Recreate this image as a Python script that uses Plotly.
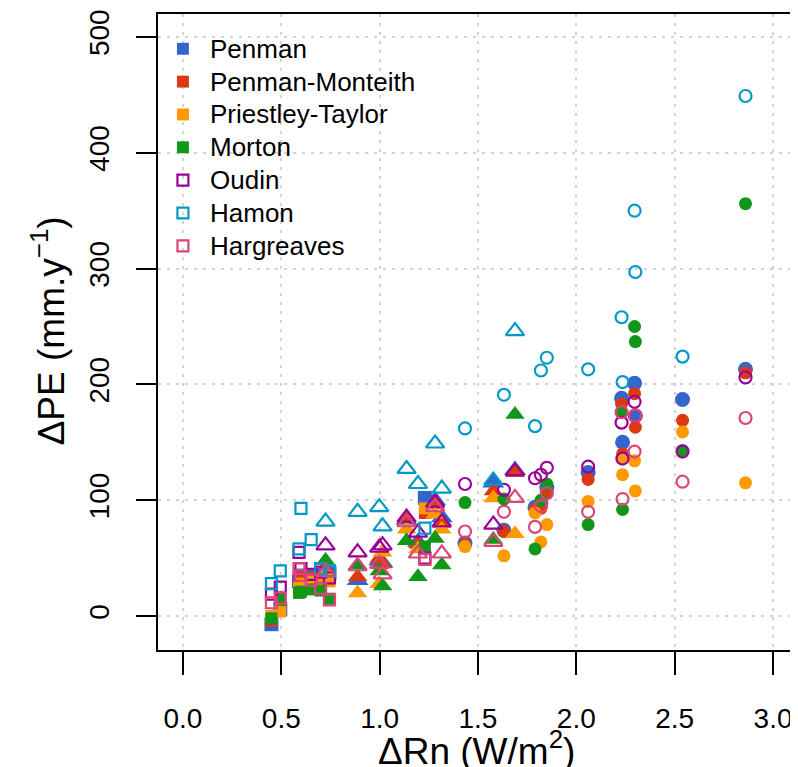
import plotly.graph_objects as go

# ---------------- data ----------------
methods = ["Penman", "Penman-Monteith", "Priestley-Taylor", "Morton",
           "Oudin", "Hamon", "Hargreaves"]
colors = ["#3366CC", "#DC3912", "#FF9900", "#109618", "#990099", "#0099C6", "#DD4477"]
filled = [True, True, True, True, False, False, False]

# site ΔRn values for the three marker groups
sq_x = [0.45, 0.495, 0.60, 0.59, 0.652, 0.70, 0.745, 1.23]
tri_x = [0.725, 0.888, 0.998, 1.015, 1.137, 1.195, 1.282, 1.316, 1.578, 1.688]
cir_x = [1.434, 1.632, 1.79, 1.82, 1.85, 2.06, 2.23, 2.235, 2.296, 2.30, 2.54, 2.86]

# ΔPE per method, square group
sq_penman = [-7, 6, 35, 30, 35, 32, 37, 102]
sq_pm = [-4, 8, 33, 28, 33, 30, 35, 89]
sq_pt = [0, 4, 28, 24, 30, 29, 30, 93]
sq_morton = [-2, 14, 21, 20, 23, 22, 15, 60]
sq_oudin = [19, 25, 41, 55, 36, 38, 33, 50]
sq_hamon = [28, 39, 93, 58, 66, 41, 39, 76]
sq_harg = [11.5, 15.5, 35, 41, 31, 24, 14, 49]

# ΔPE per method, triangle group
tri_penman = [41, 31, 48, 46, 83, 64, 100, 85, 115, 126]
tri_pm = [40, 34, 50, 45, 84, 62, 96, 80, 108, 124]
tri_pt = [36, 20, 28, 55, 75, 58, 88, 75, 102, 71]
tri_morton = [48, 44, 39, 26, 65, 34, 67, 44, 66, 174]
tri_oudin = [61, 55, 59, 61, 85, 72, 98, 81, 79, 125]
tri_hamon = [81.5, 90, 94, 77.5, 127, 114, 149, 110, 117, 246]
tri_harg = [38, 43, 45, 36, 81, 54, 94, 54, 64, 102]

# ΔPE per method, circle group
cir_penman = [63, 74, 94, 97, 111, 124, 188, 150, 201, 173, 187, 213]
cir_pm = [62, 73, 92, 93, 107, 118, 183, 140, 192, 163, 169, 210]
cir_pt = [60, 52, 89, 64, 79, 99, 136, 122, 134, 108, 159, 115]
cir_morton = [98, 101, 58, 100, 114, 79, 176, 92, 250, 237, 143, 356]
cir_oudin = [114, 109, 119, 122, 128, 129, 167, 136, 185, 173, 142, 206]
cir_hamon = [162, 191, 164, 212, 223, 213, 258, 202, 350, 297, 224, 449]
cir_harg = [73, 90, 77, 95, 106, 90, 176, 101, 142, 173, 116, 171]

x_ticks = [0.0, 0.5, 1.0, 1.5, 2.0, 2.5, 3.0]
y_ticks = [0, 100, 200, 300, 400, 500]

sq_vals = [sq_penman, sq_pm, sq_pt, sq_morton, sq_oudin, sq_hamon, sq_harg]
tri_vals = [tri_penman, tri_pm, tri_pt, tri_morton, tri_oudin, tri_hamon, tri_harg]
cir_vals = [cir_penman, cir_pm, cir_pt, cir_morton, cir_oudin, cir_hamon, cir_harg]

# ---------------- figure geometry (page has an 8px body margin) ----------------
W, H = 790, 759
ML, MR, MT, MB = 150, 2, 2, 117
PW = W - ML - MR
PH = H - MT - MB


def px2paper_x(fx):
    return (fx - ML) / PW


def px2paper_y(fy):
    return (H - MB - fy) / PH


fig = go.Figure()

groups = [
    ("square", sq_x, sq_vals, 12, 11),
    ("triangle-up", tri_x, tri_vals, 17, 16),
    ("circle", cir_x, cir_vals, 13, 12),
]

for i, (m, col, fil) in enumerate(zip(methods, colors, filled)):
    for sym, xs, vals, fsize, osize in groups:
        if fil:
            size = fsize + (2 if i == 0 else 0)
            marker = dict(symbol=sym, size=size, color=col, line=dict(width=0))
        else:
            marker = dict(symbol=sym + "-open", size=osize, color=col,
                          line=dict(width=2.2, color=col))
        fig.add_trace(go.Scatter(x=xs, y=vals[i], mode="markers", marker=marker,
                                 name=m, showlegend=False, hoverinfo="x+y+name"))

font_family = "Liberation Sans, Arial, sans-serif"

# ---------------- manual legend (squares + text) ----------------
shapes = []
annotations = []
leg_marker_x = 175      # figure px (centre of legend squares)
leg_text_x = 200        # figure px (left of legend text)
leg_y0 = 37             # figure px (centre of first row)
leg_dy = 33.05
for k, (m, col, fil) in enumerate(zip(methods, colors, filled)):
    cy = leg_y0 + k * leg_dy
    half = 6 if fil else 5.5
    shapes.append(dict(
        type="rect", xref="paper", yref="paper",
        x0=px2paper_x(leg_marker_x - half), x1=px2paper_x(leg_marker_x + half),
        y0=px2paper_y(cy + half), y1=px2paper_y(cy - half),
        fillcolor=col if fil else "rgba(0,0,0,0)",
        line=dict(color=col, width=0 if fil else 2.2)))
    annotations.append(dict(
        text=m, xref="paper", yref="paper",
        x=px2paper_x(leg_text_x), y=px2paper_y(cy),
        xanchor="left", yanchor="middle", showarrow=False,
        font=dict(size=26, family=font_family, color="black")))

annotations += [
    dict(text="ΔRn (W/m<sup>2</sup>)", xref="paper", yref="paper",
         x=px2paper_x(470), y=px2paper_y(741), xanchor="center", yanchor="middle",
         showarrow=False, font=dict(size=37, family=font_family, color="black")),
    dict(text="ΔPE (mm.y<sup>−1</sup>)", xref="paper", yref="paper",
         x=px2paper_x(40), y=px2paper_y(321), xanchor="center", yanchor="middle",
         textangle=-90, showarrow=False,
         font=dict(size=37, family=font_family, color="black")),
]

grid_kw = dict(showgrid=True, gridcolor="#d3d3d3", gridwidth=2, griddash="3px,6px")

fig.update_layout(
    width=W, height=H,
    margin=dict(l=ML, r=MR, t=MT, b=MB),
    paper_bgcolor="white", plot_bgcolor="white",
    font=dict(family=font_family, color="black"),
    showlegend=False,
    xaxis=dict(range=[-0.1267, 3.1065], tickvals=x_ticks,
               ticktext=[f"{v:.1f}" for v in x_ticks],
               ticks="outside", ticklen=23, tickwidth=2, tickcolor="black",
               ticklabelstandoff=19, ticklabeloverflow="allow",
               tickfont=dict(size=28, family=font_family, color="black"),
               showline=True, linecolor="black", linewidth=2, mirror=True,
               zeroline=False, **grid_kw),
    yaxis=dict(range=[-29.3, 519.8], tickvals=y_ticks,
               ticks="outside", ticklen=20, tickwidth=2, tickcolor="black",
               tickangle=-90, ticklabelstandoff=16, ticklabeloverflow="allow",
               tickfont=dict(size=28, family=font_family, color="black"),
               showline=True, linecolor="black", linewidth=2, mirror=True,
               zeroline=False, **grid_kw),
    shapes=shapes,
    annotations=annotations,
)

fig.write_html("out.html")
